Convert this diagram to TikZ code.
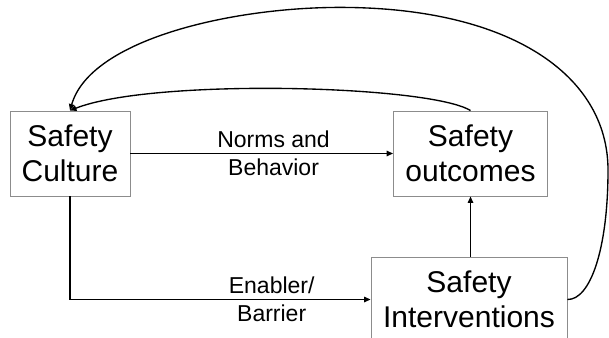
\documentclass[tikz,border=0pt]{standalone}
\usepackage{fontspec}
\setmainfont{Liberation Sans}
\usetikzlibrary{arrows.meta}
\begin{document}
\begin{tikzpicture}[x=1pt,y=-1pt,
  box/.style={draw=black!45, line width=0.9pt, align=center, font=\fontsize{30}{35.5}\selectfont, inner sep=0pt},
  lbl/.style={align=center, font=\fontsize{23}{28}\selectfont, inner sep=0pt},
  conn/.style={line width=1.35pt, -{Triangle[length=6.5pt,width=5.5pt]}}]
\clip (0,0) rectangle (609,337);
\node[box, minimum width=120pt, minimum height=85pt] (cult) at (70,153.5) {Safety\\Culture};
\node[box, minimum width=154pt, minimum height=85pt] (outc) at (470.5,153.5) {Safety\\outcomes};
\node[box, minimum width=196pt, minimum height=85pt] (intv) at (469,299.5) {Safety\\Interventions};
\draw[conn] (cult.east) -- node[lbl, pos=0.545] (norms) {Norms and\\Behavior} (outc.west);
\draw[conn] (cult.south) |- node[lbl, pos=0.8355] (enab) {Enabler/\\Barrier} (intv.west);
\draw[conn] (intv.north -| outc.south) -- (outc.south);
\draw[conn] (outc.north) .. controls (429,85) and (152,78) .. (cult.north);
\draw[conn] (intv.east) .. controls (590,300) and (608,250) .. (608,170)
  .. controls (608,75) and (510,7.4) .. (340,7.4)
  .. controls (230,7.4) and (90,40) .. (cult.north);
\end{tikzpicture}
\end{document}
